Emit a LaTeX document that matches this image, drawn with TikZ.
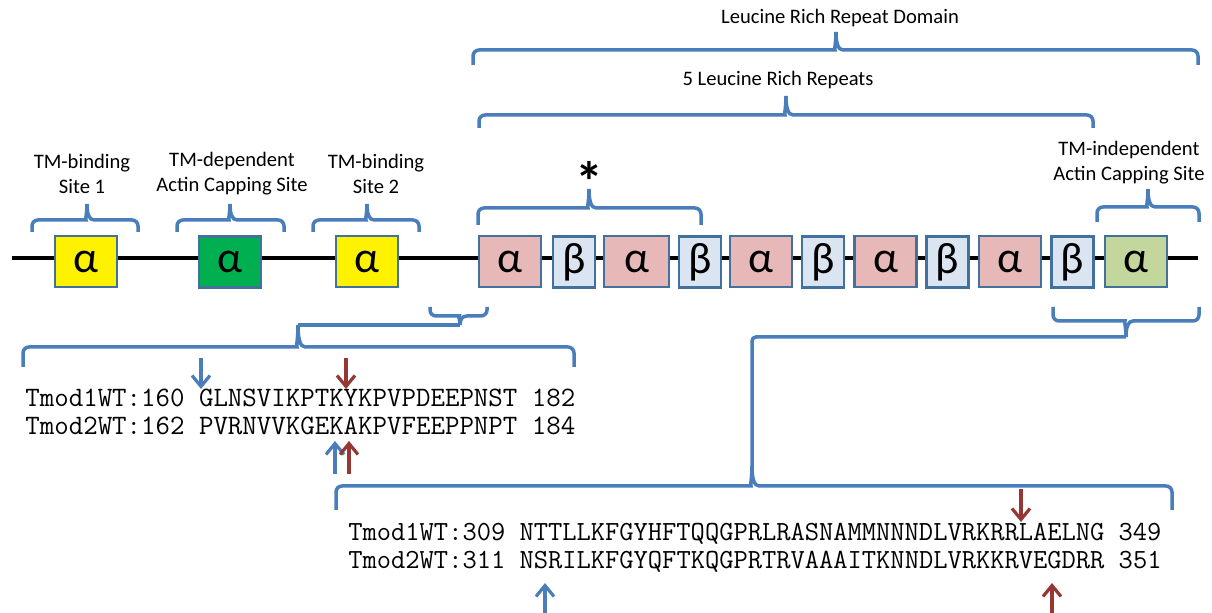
\documentclass[tikz,border=0pt]{standalone}
\usepackage{fontspec}
\setmainfont{Carlito}
\usetikzlibrary{arrows.meta}

\definecolor{bracecol}{HTML}{4A7EBB}
\definecolor{boxline}{HTML}{41719C}
\definecolor{helixpink}{HTML}{E6B9B8}
\definecolor{strandblue}{HTML}{DBE5F1}
\definecolor{lrrgreen}{HTML}{C3D69B}
\definecolor{capgreen}{HTML}{00B050}
\definecolor{markblue}{HTML}{4A7EBB}
\definecolor{markred}{HTML}{953735}

% brace: x1, x2, x of tip, y of line, y of ends, y of tip
\newcommand{\tipbrace}[6]{%
  \draw[brace line] (#1,#5) [rounded corners=3pt] -- (#1,#4) -- ({#3-7},#4) [sharp corners]
    .. controls ({#3-2},#4) and (#3,{#4+0.4*(#6-#4)}) .. (#3,#6)
    .. controls (#3,{#4+0.4*(#6-#4)}) and ({#3+2},#4) .. ({#3+7},#4)
    [rounded corners=3pt] -- (#2,#4) -- (#2,#5);}

\tikzset{
  brace line/.style={draw=bracecol, line width=1.75pt},
  domainbox/.style={draw=boxline, line width=1.3pt, inner sep=0pt,
    minimum height=25.5pt, font=\fontsize{22}{22}\selectfont},
  helix/.style={domainbox, minimum width=31pt},
  strand/.style={domainbox, minimum width=21pt, fill=strandblue},
  site label/.style={align=center, font=\fontsize{10.3}{12.5}\selectfont, inner sep=0pt},
  seqline/.style={anchor=base west, inner sep=0pt, font=\ttfamily\fontsize{14.05}{16}\selectfont},
  markarrow/.style={line width=1.6pt, -{Straight Barb[length=5.5pt,width=9pt]}}
}

\begin{document}
\begin{tikzpicture}[x=0.5pt, y=-0.5pt]
    \useasboundingbox (0,0) rectangle (1212,613);

    % backbone
    \draw[line width=2.2pt] (12,258) -- (1198,258);

    % N-terminal helices
    \node[helix, fill=yellow] (tmA) at (86,261.5) {α};
    \node[helix, fill=capgreen] (capA) at (230,262) {α};
    \node[helix, fill=yellow] (tmB) at (367,261.5) {α};

    % leucine rich repeats
    \node[helix, fill=helixpink] (hA) at (510,261.5) {α};
    \node[strand] (sA) at (574,262) {β};
    \node[helix, fill=helixpink, minimum width=32.5pt] (hB) at (636.5,261.5) {α};
    \node[strand] (sB) at (700,262) {β};
    \node[helix, fill=helixpink] (hC) at (761,261.5) {α};
    \node[strand] (sC) at (823,262) {β};
    \node[helix, fill=helixpink] (hD) at (885.5,261.5) {α};
    \node[strand] (sD) at (947.5,262) {β};
    \node[helix, fill=helixpink] (hE) at (1010,261.5) {α};
    \node[strand] (sE) at (1072.5,262) {β};
    \node[helix, fill=lrrgreen] (capB) at (1136,261.5) {α};

    % braces above
    \tipbrace{32}{138}{87}{220}{232}{204}
    \tipbrace{177}{284}{230}{220}{232}{204}
    \tipbrace{313}{419}{367}{220}{232}{204}
    \tipbrace{478}{701}{589}{208}{225}{189}
    \tipbrace{1097}{1199}{1148}{207}{222}{189}
    \tipbrace{479}{1093}{786}{115}{128}{96}
    \tipbrace{473}{1198}{836}{50}{65}{32}

    \node[site label] (lblTmA) at (82,174) {TM-binding\\Site 1};
    \node[site label] (lblCapA) at (232,174) {TM-dependent\\Actin Capping Site};
    \node[site label] (lblTmB) at (376,174) {TM-binding\\Site 2};
    \node[site label] (lblCapB) at (1129,163) {TM-independent\\Actin Capping Site};
    \node[site label] (lblDomain) at (840,18) {Leucine Rich Repeat Domain};
    \node[site label] (lblRepeats) at (778,80) {5 Leucine Rich Repeats};
    \node[inner sep=0pt, font=\fontsize{28}{28}\selectfont\bfseries] (star) at (589,181) {*};

    % braces below, joined to the alignments
    \tipbrace{430}{487}{460}{316}{307}{325}
    \tipbrace{23}{574}{298}{347}{367}{325}
    \coordinate (tipS) at (460,325);
    \coordinate (tipL) at (298,325);
    \draw[brace line] (tipS) -- (tipL);

    \tipbrace{1053}{1199}{1126}{321}{307}{337}
    \tipbrace{336}{1172}{752}{486}{510}{466}
    \coordinate (tipR) at (1126,337);
    \coordinate (tipLow) at (752,466);
    \draw[brace line, rounded corners=2pt] (tipLow) |- (tipR);

    % alignments
    \node[seqline] (seqA1) at (25,407) {Tmod1WT:160 GLNSVIKPTKYKPVPDEEPNST 182};
    \node[seqline] (seqA2) at (25,435) {Tmod2WT:162 PVRNVVKGEKAKPVFEEPPNPT 184};
    \node[seqline, font=\ttfamily\fontsize{13.85}{16}\selectfont] (seqB1) at (348,541) {Tmod1WT:309 NTTLLKFGYHFTQQGPRLRASNAMMNNNDLVRKRRLAELNG 349};
    \node[seqline, font=\ttfamily\fontsize{13.85}{16}\selectfont] (seqB2) at (348,569) {Tmod2WT:311 NSRILKFGYQFTKQGPRTRVAAAITKNNDLVRKKRVEGDRR 351};

    % marked residues
    \draw[markarrow, markblue] (201,358) -- (201,389);
    \draw[markarrow, markred] (346,358) -- (346,389);
    \draw[markarrow, markblue] (335,474) -- (335,441);
    \draw[markarrow, markred] (349,474) -- (349,441);
    \draw[markarrow, markred] (1021,489) -- (1021,522);
    \draw[markarrow, markblue] (545,614) -- (545,583);
    \draw[markarrow, markred] (1052,614) -- (1052,583);
\end{tikzpicture}
\end{document}
